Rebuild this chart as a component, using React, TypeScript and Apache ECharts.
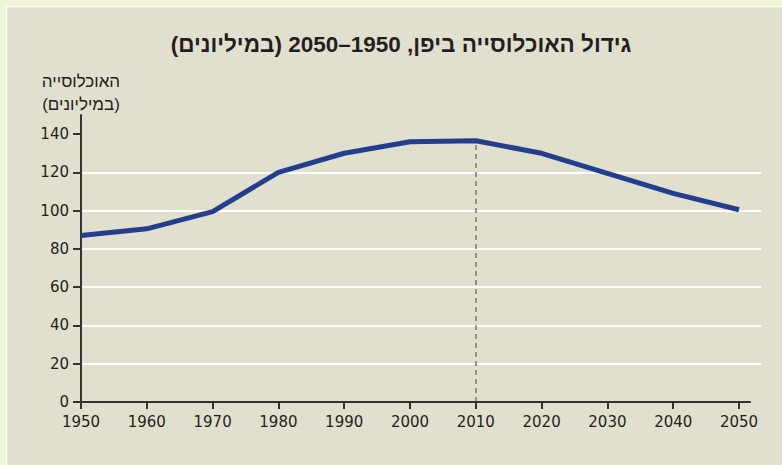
import React, { useEffect, useRef } from "react";
import * as echarts from "echarts";

const titleText = "גידול האוכלוסייה ביפן, 1950–2050 (במיליונים)\u200F";
const yAxisName = "האוכלוסייה\n(במיליונים)";
const years = [1950, 1960, 1970, 1980, 1990, 2000, 2010, 2020, 2030, 2040, 2050];
const population = [87, 90.5, 99.5, 120, 130, 136, 136.5, 130, 119.5, 109, 100.5];
const yTicks = [0, 20, 40, 60, 80, 100, 120, 140];
const highlightYear = 2010;

const FONT = "'Liberation Sans', Arial, sans-serif";
const TICK_FONT = "'DejaVu Sans', 'Liberation Sans', sans-serif";

export default function App() {
  const ref = useRef<HTMLDivElement>(null);
  useEffect(() => {
    if (!ref.current) return;
    const chart = echarts.init(ref.current, null, { renderer: "svg" });
    const highlightIdx = years.indexOf(highlightYear);
    chart.setOption({
      animation: false,
      backgroundColor: "#eef5d6",
      textStyle: { fontFamily: FONT },
      graphic: [
        {
          type: "rect",
          z: -10,
          silent: true,
          shape: { x: 6.5, y: 6.5, width: 780, height: 462 },
          style: { fill: "#e1e0cf", stroke: "#fbfdf4", lineWidth: 1.5 },
        },
      ],
      title: {
        text: titleText,
        left: 396,
        textAlign: "center",
        top: 28,
        textStyle: { fontSize: 22.5, fontWeight: "bold", color: "#231f20", fontFamily: FONT },
      },
      grid: { left: 81, right: 21, top: 115, bottom: 63, containLabel: false, outerBoundsMode: "none" },
      xAxis: {
        type: "value",
        min: 1950,
        max: 2053.34,
        interval: 10,
        axisLine: { show: false },
        axisTick: {
          show: true,
          length: 7,
          customValues: years,
          lineStyle: { color: "#333", width: 2 },
        },
        axisLabel: {
          customValues: years,
          formatter: (v: number) => String(Math.round(v)),
          margin: 12,
          fontSize: 15,
          color: "#231f20",
          fontFamily: TICK_FONT,
        },
        splitLine: { show: false },
      },
      yAxis: {
        type: "value",
        min: 0,
        max: 150,
        interval: 20,
        name: yAxisName,
        nameLocation: "end",
        nameGap: -1,
        nameTextStyle: {
          fontSize: 17,
          lineHeight: 23,
          color: "#231f20",
          align: "center",
          verticalAlign: "bottom",
          fontFamily: FONT,
        },
        axisLine: { show: true, lineStyle: { color: "#333", width: 2 } },
        axisTick: {
          show: true,
          length: 8,
          customValues: yTicks,
          lineStyle: { color: "#333", width: 2 },
        },
        axisLabel: {
          customValues: yTicks,
          formatter: (v: number) => String(Math.round(v)),
          margin: 12,
          fontSize: 15,
          color: "#231f20",
          fontFamily: TICK_FONT,
        },
        splitLine: {
          show: true,
          showMinLine: false,
          showMaxLine: false,
          lineStyle: { color: "#ffffff", width: 2 },
        },
      },
      series: [
        {
          type: "line",
          data: years.map((y, i) => [y, population[i]]),
          showSymbol: false,
          symbol: "none",
          lineStyle: { color: "#243e8e", width: 5 },
          itemStyle: { color: "#243e8e" },
          z: 5,
          markLine: {
            silent: true,
            symbol: "none",
            label: { show: false },
            data: [
              [
                { coord: [highlightYear, 0], lineStyle: { color: "#777", width: 1.5, type: [5, 4] } },
                { coord: [highlightYear, population[highlightIdx]] },
              ],
              [
                { coord: [1950, 0], lineStyle: { color: "#333", width: 2, type: "solid" } },
                { coord: [2051.8, 0] },
              ],
            ],
          },
        },
      ],
    });
    return () => chart.dispose();
  }, []);
  return (
    <div
      ref={ref}
      style={{ position: "absolute", left: 0, top: 0, width: 782, height: 465 }}
    />
  );
}
